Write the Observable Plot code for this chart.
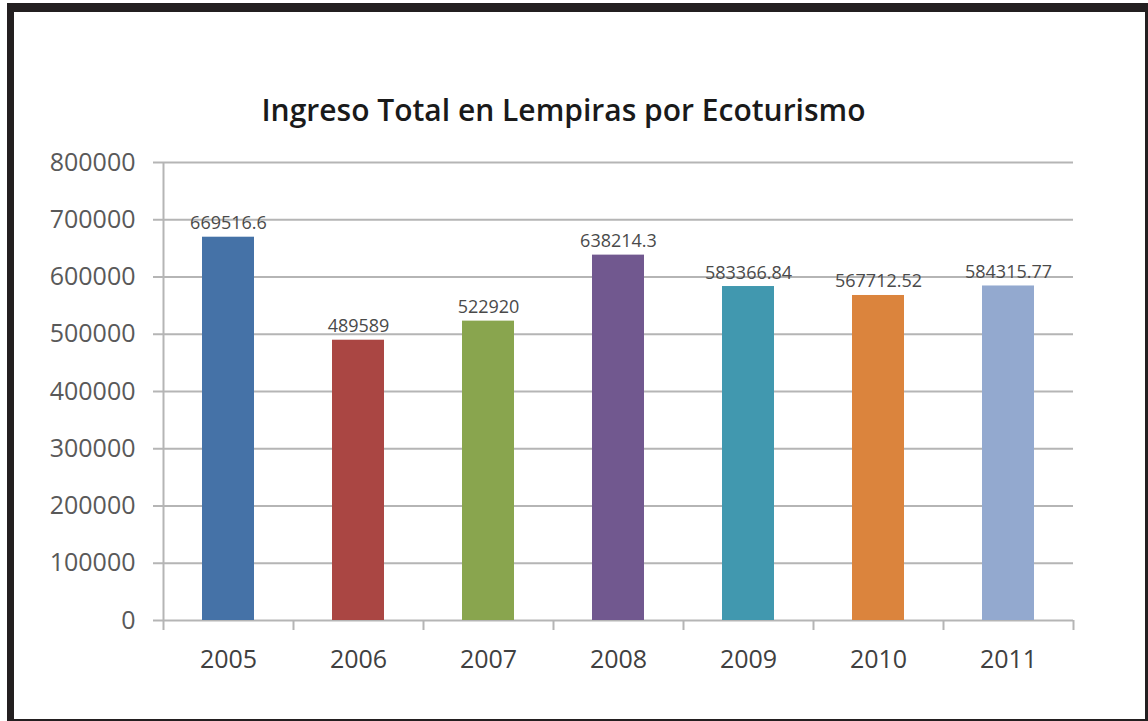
<!DOCTYPE html>
<html><head><meta charset="utf-8">
<script src="https://cdn.jsdelivr.net/npm/d3@7"></script>
<script src="https://cdn.jsdelivr.net/npm/@observablehq/plot@0.6"></script>
<style>
html,body{margin:0;padding:0;background:#fff;}
#wrap{position:relative;width:1148px;height:721px;overflow:hidden;font-family:"Open Sans",sans-serif;}
#frame{position:absolute;left:7px;top:3px;right:0;bottom:0;border-style:solid;border-color:#231f20;border-width:9px 3px 2px 7px;pointer-events:none;}
#title{position:absolute;top:92px;left:0;width:1127px;text-align:center;font-size:30px;font-weight:600;color:#1a1a1a;line-height:1.2;}
#chart{position:absolute;left:0;top:0;}
</style></head><body>
<div id="wrap"><div id="chart"></div><div id="title">Ingreso Total en Lempiras por Ecoturismo</div><div id="frame"></div></div>
<script>
const years = ["2005", "2006", "2007", "2008", "2009", "2010", "2011"];
const values = [669516.6, 489589, 522920, 638214.3, 583366.84, 567712.52, 584315.77];
const valueLabels = ["669516.6", "489589", "522920", "638214.3", "583366.84", "567712.52", "584315.77"];
const colors = ["#4572A7", "#AA4643", "#89A54E", "#71588F", "#4198AF", "#DB843D", "#93A9CF"];
const yTicks = [0, 100000, 200000, 300000, 400000, 500000, 600000, 700000, 800000];

const data = years.map((y, i) => ({year: y, value: values[i], label: valueLabels[i]}));
const grid = "#b5b5b5";
const tickDrop = -17500;

const chart = Plot.plot({
  width: 1148, height: 721,
  marginTop: 162, marginBottom: 101, marginLeft: 163, marginRight: 75,
  style: {fontFamily: '"Open Sans", sans-serif', background: "transparent"},
  x: {domain: years, paddingInner: 0.6, paddingOuter: 0.3, axis: null, label: null},
  y: {domain: [0, 800000], axis: null, label: null},
  color: {domain: years, range: colors},
  marks: [
    Plot.ruleY(yTicks, {stroke: grid, strokeWidth: 2}),
    Plot.ruleX([years[0]], {dx: -65, y1: tickDrop, y2: 800000, stroke: grid, strokeWidth: 2}),
    Plot.ruleX(years, {x: d => d, dx: 65, y1: 0, y2: tickDrop, stroke: grid, strokeWidth: 2}),
    Plot.axisY({ticks: yTicks, tickSize: 10, tickPadding: 18, tickFormat: d3.format("d"), fontSize: 25, stroke: grid, strokeWidth: 2, fill: "#595959", label: null}),
    Plot.barY(data, {x: "year", y: "value", fill: "year"}),
    Plot.text(data, {x: "year", y: "value", text: "label", dy: -8, lineAnchor: "bottom", fontSize: 18, fill: "#4a4a4a"}),
    Plot.axisX({tickSize: 0, tickPadding: 30, fontSize: 25, fill: "#404040", label: null})
  ]
});
document.getElementById("chart").appendChild(chart);
</script>
</body></html>
